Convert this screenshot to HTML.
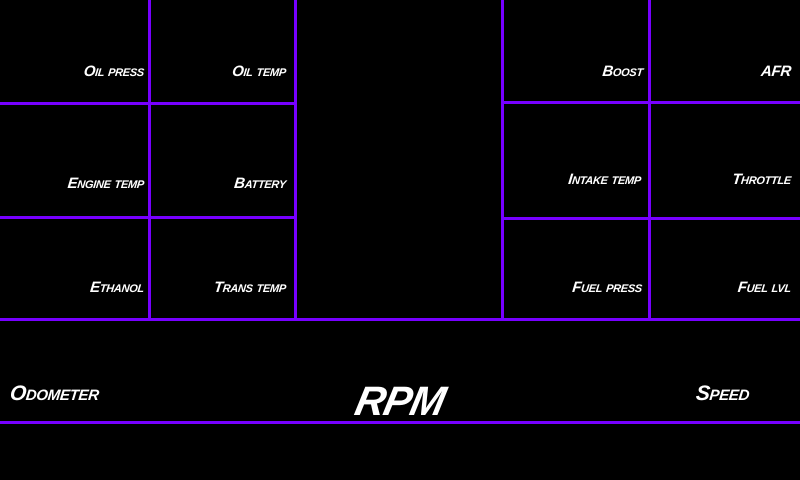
<!DOCTYPE html>
<html><head><style>
body{margin:0;background:#000;width:800px;height:480px;overflow:hidden;position:relative;font-family:"Liberation Sans",sans-serif}
.l{position:absolute;background:#7700ff}
.t{position:absolute;color:#fff;font-weight:bold;font-style:italic;font-variant:small-caps;font-size:15px;line-height:1;white-space:nowrap;letter-spacing:-0.3px;transform:skewX(-6deg)}
.r{text-align:right;width:140px}
</style></head><body>
<div class="l" style="left:148px;top:0;width:3px;height:320px"></div>
<div class="l" style="left:294px;top:0;width:3px;height:320px"></div>
<div class="l" style="left:501px;top:0;width:3px;height:320px"></div>
<div class="l" style="left:648px;top:0;width:3px;height:320px"></div>
<div class="l" style="left:0;top:102px;width:296px;height:3px"></div>
<div class="l" style="left:0;top:216px;width:296px;height:3px"></div>
<div class="l" style="left:502px;top:101px;width:298px;height:3px"></div>
<div class="l" style="left:502px;top:217px;width:298px;height:3px"></div>
<div class="l" style="left:0;top:318px;width:800px;height:3px"></div>
<div class="l" style="left:0;top:421px;width:800px;height:3px"></div>

<div class="t r" style="left:4px;top:64px">Oil press</div>
<div class="t r" style="left:146px;top:64px">Oil temp</div>
<div class="t r" style="left:4px;top:176px">Engine temp</div>
<div class="t r" style="left:146px;top:176px">Battery</div>
<div class="t r" style="left:4px;top:280px">Ethanol</div>
<div class="t r" style="left:146px;top:280px">Trans temp</div>

<div class="t r" style="left:503px;top:64px">Boost</div>
<div class="t r" style="left:651px;top:64px">AFR</div>
<div class="t r" style="left:501px;top:172px">Intake temp</div>
<div class="t r" style="left:651px;top:172px">Throttle</div>
<div class="t r" style="left:502px;top:280px">Fuel press</div>
<div class="t r" style="left:651px;top:280px">Fuel lvl</div>

<div class="t" style="left:10px;top:383px;font-size:21px">Odometer</div>
<div class="t" style="left:696px;top:383px;font-size:21px">Speed</div>
<div class="t" style="left:300px;width:200px;text-align:center;top:381px;font-size:41px;letter-spacing:-1px;transform:skewX(-12deg)">RPM</div>
</body></html>
